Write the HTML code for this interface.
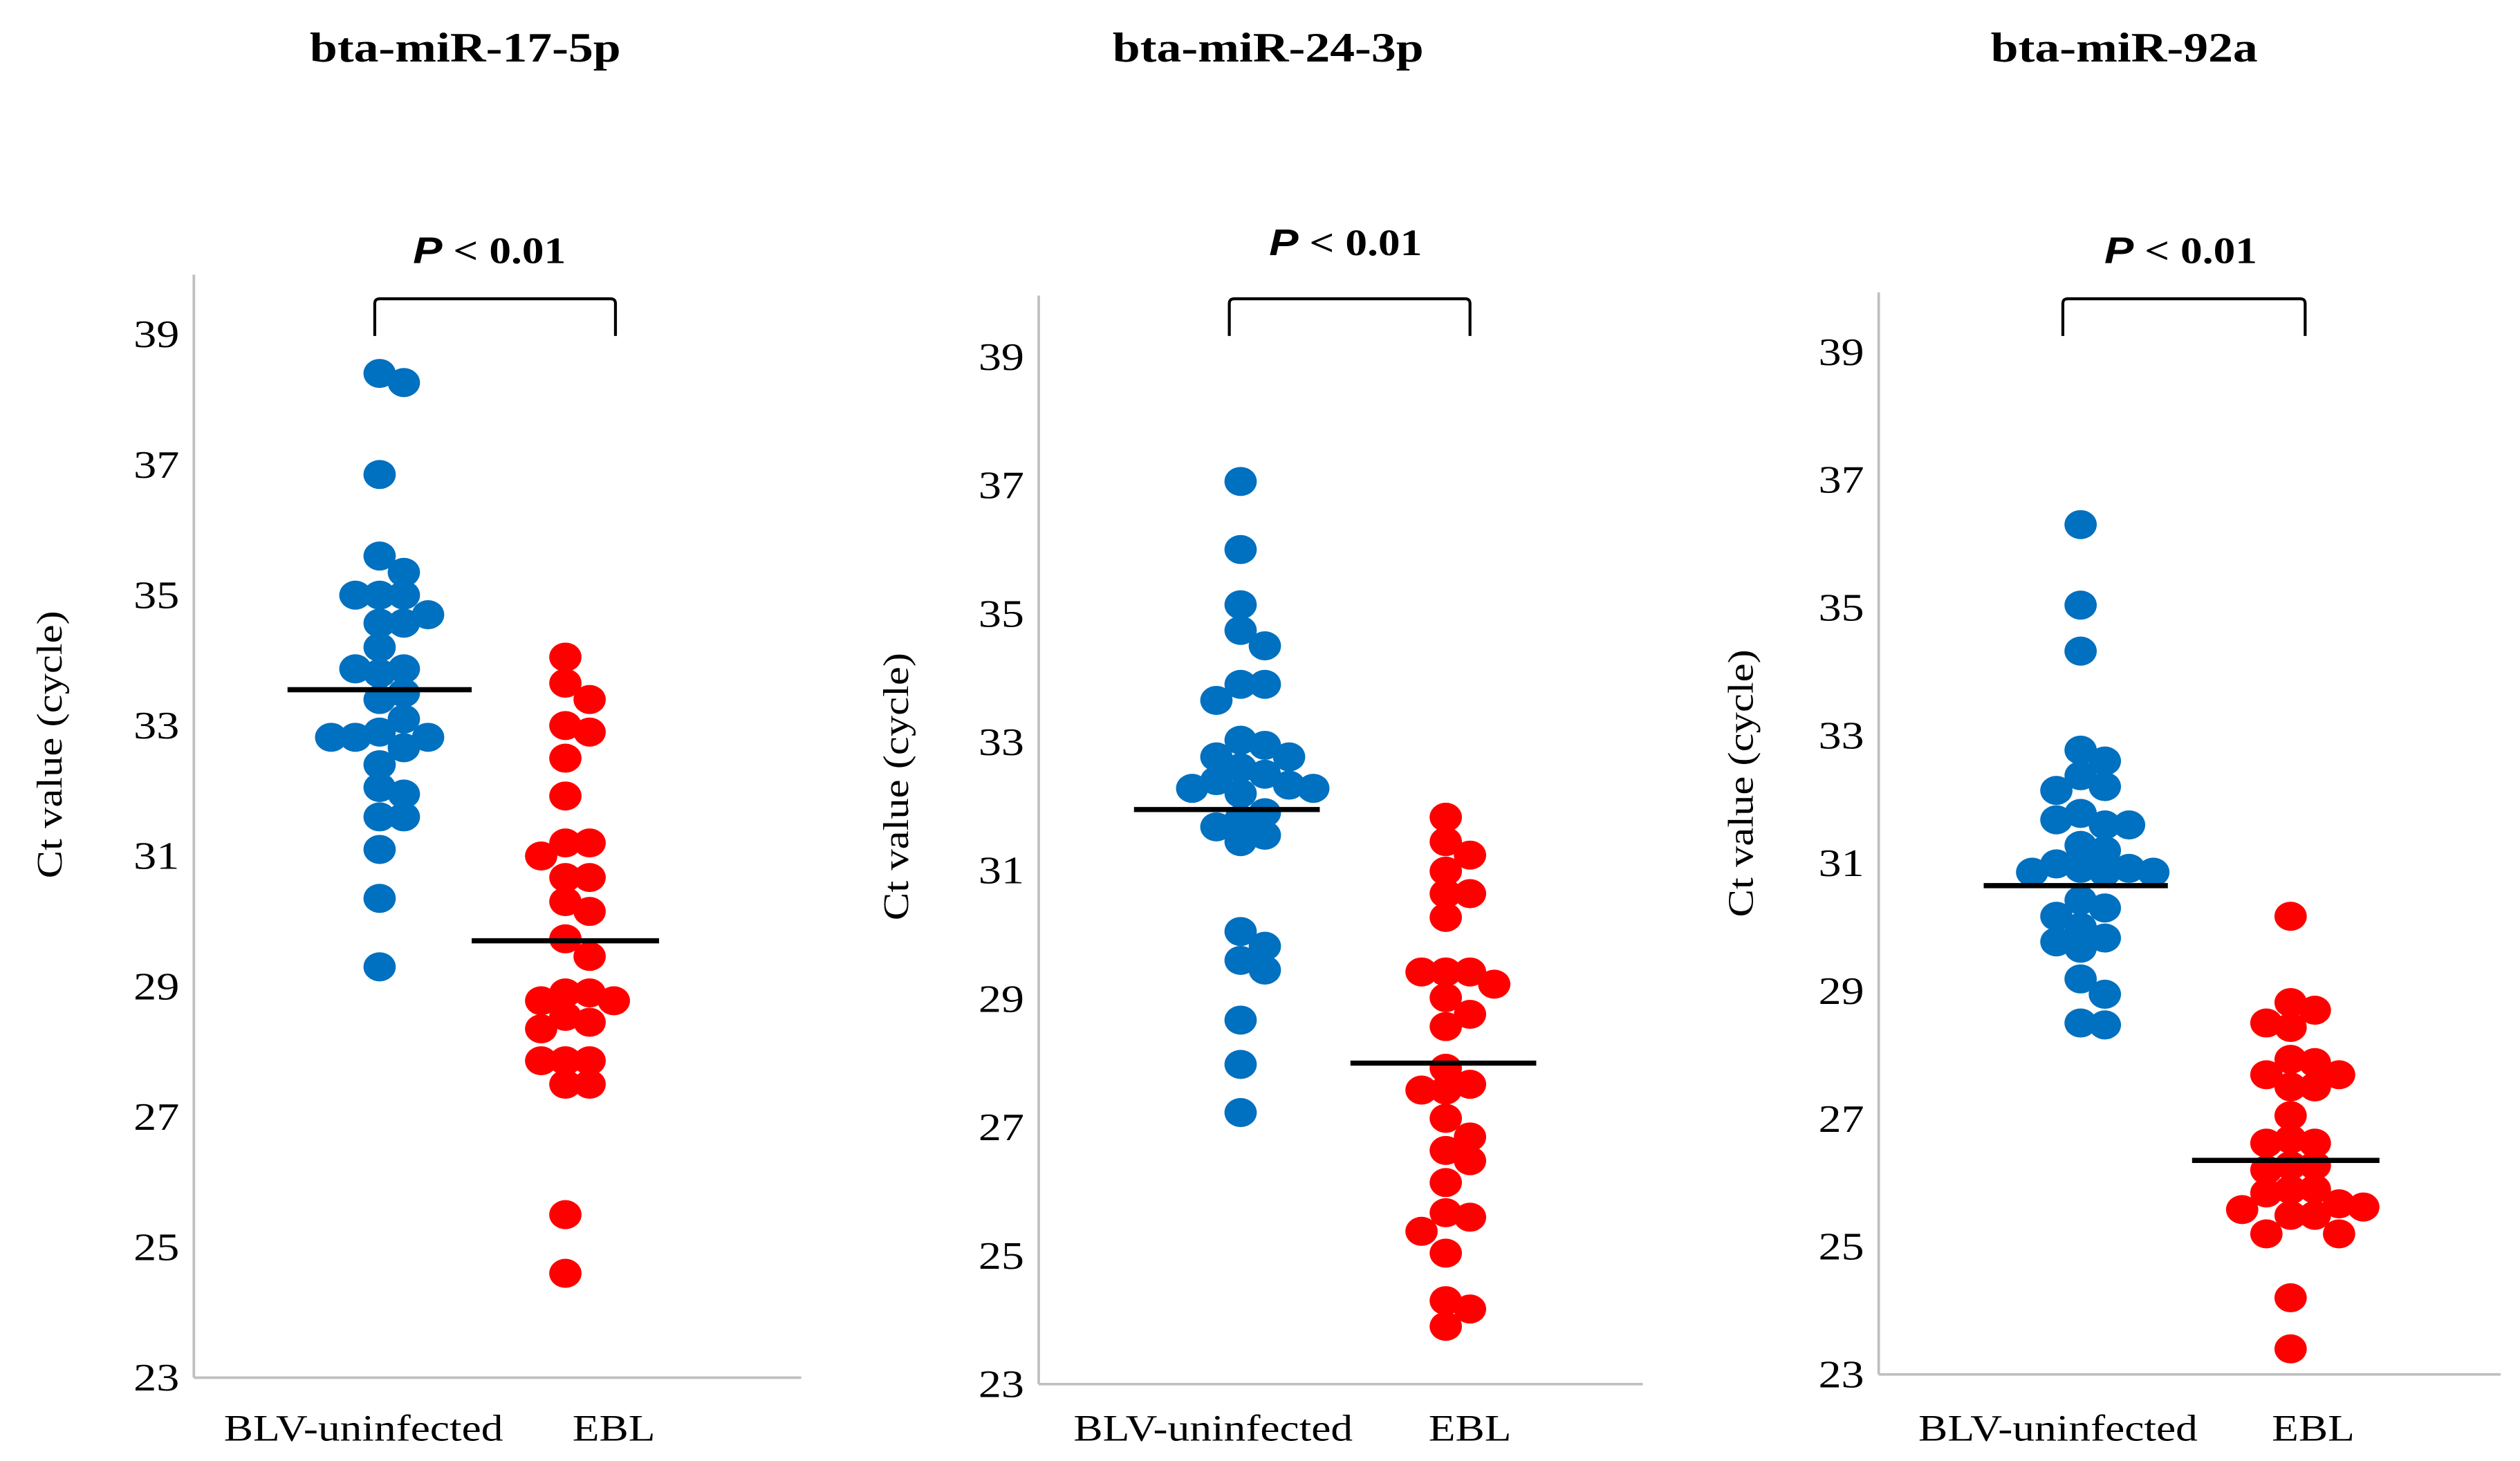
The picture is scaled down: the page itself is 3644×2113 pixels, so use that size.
<!DOCTYPE html>
<html><head><meta charset="utf-8"><style>
html,body{margin:0;padding:0;background:#fff;}
svg{display:block;}
text{font-family:"Liberation Serif",serif;}
</style></head><body>
<svg id="chart" width="3644" height="2113" viewBox="0 0 1560 904.6" preserveAspectRatio="none" xmlns="http://www.w3.org/2000/svg"></svg>
<script>
const titles = ["bta-miR-17-5p","bta-miR-24-3p","bta-miR-92a"];
const categories = ["BLV-uninfected","EBL"];
const yTicks = [23,25,27,29,31,33,35,37,39];
const pLabel = "P < 0.01";
const blue17 = [38.4,38.26,36.85,35.6,35.35,35.0,35.0,35.0,34.7,34.57,34.57,34.2,33.8,33.87,33.87,33.5,33.4,33.1,32.9,32.82,32.82,32.82,32.66,32.4,32.05,31.95,31.6,31.6,31.1,30.35,29.3];
const red17 = [34.05,33.65,33.4,33.0,32.9,32.5,31.92,31.2,31.2,31.0,30.67,30.67,30.3,30.15,29.73,29.46,28.9,28.9,28.78,28.78,28.54,28.45,28.35,27.86,27.86,27.86,27.5,27.5,25.5,24.6];
const blue24 = [37.06,36.0,35.14,34.74,34.5,33.9,33.9,33.65,33.03,32.95,32.77,32.77,32.6,32.5,32.4,32.33,32.28,32.28,32.2,31.9,31.8,31.68,31.55,31.45,30.05,29.82,29.6,29.45,28.67,27.98,27.23];
const red24 = [31.83,31.45,31.24,30.99,30.64,30.64,30.27,29.42,29.42,29.42,29.23,29.02,28.76,28.57,27.92,27.67,27.58,27.58,27.14,26.85,26.64,26.48,26.14,25.67,25.6,25.38,25.04,24.3,24.17,23.9];
const blue92 = [36.3,35.04,34.32,32.77,32.6,32.37,32.2,32.14,31.78,31.6,31.68,31.6,31.28,31.2,30.99,30.92,30.92,30.86,30.86,30.86,30.42,30.3,30.17,30.0,29.83,29.77,29.67,29.19,28.95,28.5,28.47];
const red92 = [30.17,28.82,28.7,28.5,28.43,27.93,27.88,27.69,27.69,27.5,27.5,27.05,26.68,26.62,26.62,26.27,26.27,26.2,25.89,25.9,25.84,25.67,25.58,25.62,25.49,25.49,25.2,25.2,24.2,23.4];
const means = [[33.55,29.7],[31.95,28.0],[30.65,26.35]];
const seriesA = [blue17, blue24, blue92];
const seriesB = [red17, red24, red92];

const NS="http://www.w3.org/2000/svg";
const svg=document.getElementById('chart');
function mk(tag,attrs,parent){const e=document.createElementNS(NS,tag);for(const k in attrs)e.setAttribute(k,attrs[k]);(parent||svg).appendChild(e);return e;}
const SX=1.18;
function txt(parent,x,y,anchor,size,weight,rot){
  const tr=`translate(${x} ${y})`+(rot?` rotate(${rot})`:'')+` scale(${SX} 1)`;
  return mk('text',{x:0,y:0,transform:tr,'text-anchor':anchor,'font-size':size,'font-weight':weight||'normal'},parent);
}

const layout=[
 {ax:120,top:170,y39:207,y23:853,xEnd:496,cx:[235,350],meanX:[[178,292],[292,408]],br:[232,381],bTop:185,bBot:208,px:303,py:163,tx:288,ylx:38,yly:461,lab:[225,380],laby:892},
 {ax:643,top:183,y39:221,y23:857,xEnd:1017,cx:[768,895],meanX:[[702,817],[836,951]],br:[761,910],bTop:185,bBot:208,px:833,py:158,tx:785,ylx:562,yly:487,lab:[751,910],laby:892},
 {ax:1163,top:181,y39:218,y23:851,xEnd:1548,cx:[1288,1418],meanX:[[1228,1342],[1357,1473]],br:[1277,1427],bTop:185,bBot:208,px:1350,py:163,tx:1315,ylx:1085,yly:485,lab:[1274,1432],laby:892}
];
const colors=["#0070c0","#ff0000"];

layout.forEach((L,i)=>{
  const g=mk('g',{});
  
  
  const y=v=>L.y23-(v-23)*(L.y23-L.y39)/16;
  const t=txt(g,L.tx,38,'middle',26,'bold');
  t.textContent=titles[i];
  
  
  const yl=txt(g,L.ylx,L.yly,'middle',22,'normal',-90);
  yl.textContent="Ct value (cycle)";
  
  
  const axy=mk('line',{x1:L.ax,y1:L.top,x2:L.ax,y2:L.y23,stroke:'#bfbfbf','stroke-width':1.6},g);
  
  
  const axx=mk('line',{x1:L.ax,y1:L.y23,x2:L.xEnd,y2:L.y23,stroke:'#bfbfbf','stroke-width':1.6},g);
  
  
  yTicks.forEach(v=>{
    const tk=txt(g,L.ax-9,y(v)+8,'end',24);
    tk.textContent=v;
    
    
  });
  categories.forEach((c,j)=>{
    const cl=txt(g,L.lab[j],L.laby,'middle',23);
    cl.textContent=c;
    
    
  });
  const br=mk('path',{d:`M${L.br[0]} ${L.bBot} L${L.br[0]} ${L.bTop+3} Q${L.br[0]} ${L.bTop} ${L.br[0]+3} ${L.bTop} L${L.br[1]-3} ${L.bTop} Q${L.br[1]} ${L.bTop} ${L.br[1]} ${L.bTop+3} L${L.br[1]} ${L.bBot}`,fill:'none',stroke:'#000','stroke-width':1.8},g);
  
  
  const pt=txt(g,L.px,L.py,'middle',23,'bold');
  pt.innerHTML='<tspan font-style="italic" font-family="Liberation Sans, sans-serif">P</tspan> &lt; 0.01';
  
  
  [seriesA[i],seriesB[i]].forEach((vals,j)=>{
    const placed=[];
    const step=15, minD=13;
    vals.forEach(v=>{
      const yy=y(v);
      let off=0;
      for(let k=0;k<12;k++){
        const o=(k===0)?0:(k%2?1:-1)*Math.ceil(k/2)*step;
        const xx=L.cx[j]+o;
        if(placed.every(p=>Math.hypot(p[0]-xx,p[1]-yy)>=minD)){off=o;break;}
      }
      placed.push([L.cx[j]+off,yy]);
      const d=mk('ellipse',{cx:L.cx[j]+off,cy:yy,rx:10,ry:9,fill:colors[j]},g);
      
      
    });
  });
  means[i].forEach((m,j)=>{
    const ml=mk('line',{x1:L.meanX[j][0],x2:L.meanX[j][1],y1:y(m),y2:y(m),stroke:'#000','stroke-width':3.2},g);
    
    
  });
});
</script>
</body></html>
